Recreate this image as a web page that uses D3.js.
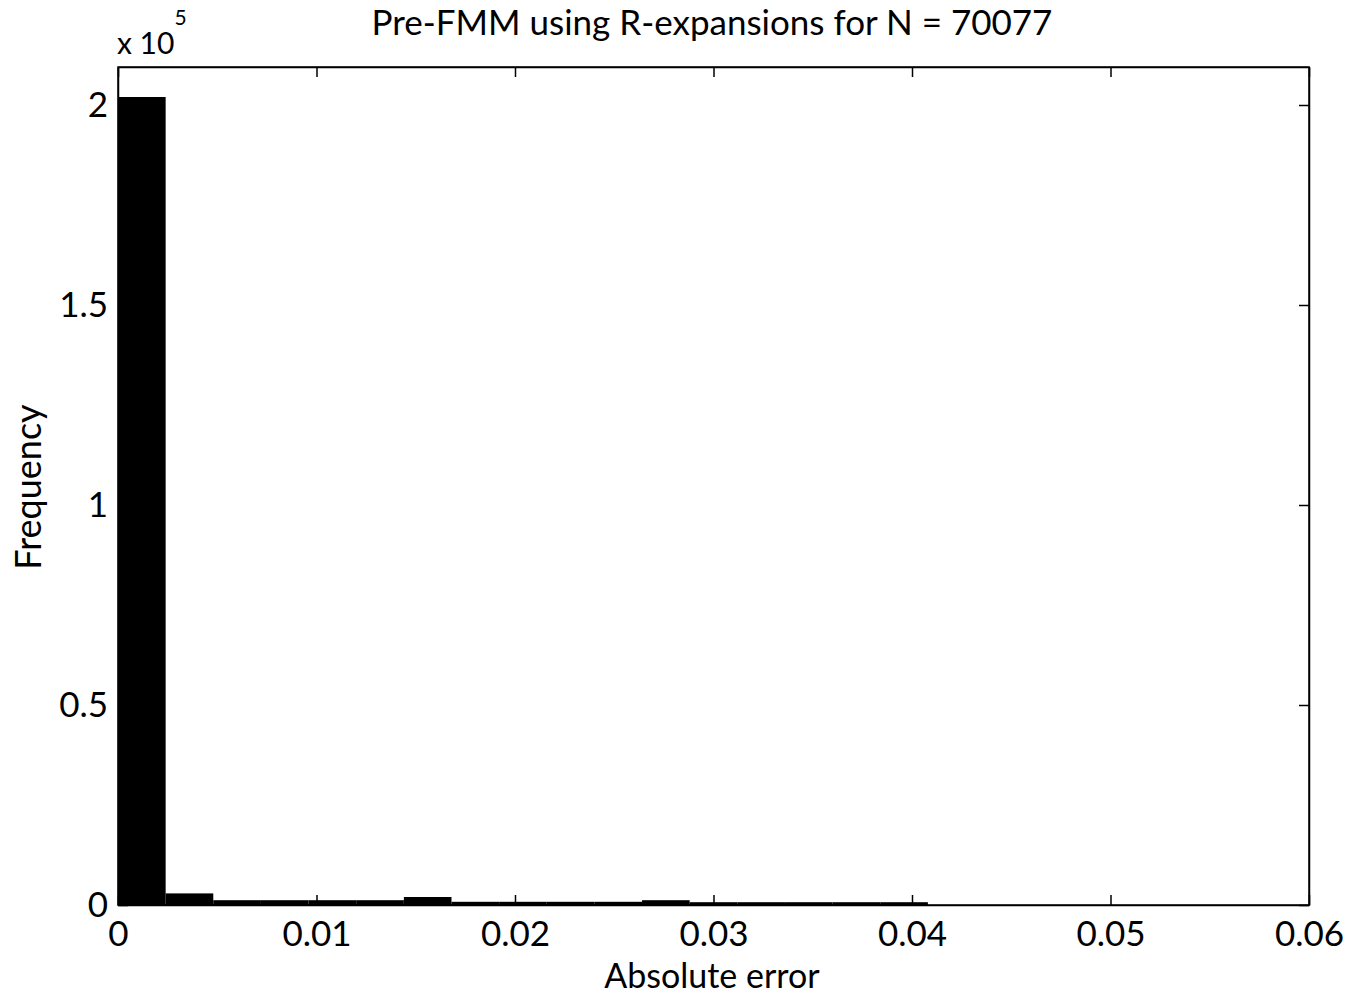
<!DOCTYPE html>
<html><head><meta charset="utf-8">
<script src="https://cdn.jsdelivr.net/npm/d3@7"></script>
<style>body{margin:0;background:#fff;} text{font-family:Lato,"Open Sans",sans-serif;fill:#000;}</style>
</head><body>
<svg id="c" width="1352" height="995"></svg>
<script>
const binStart = 0;
const binWidth = 0.0024;
const counts = [202000, 2900, 1200, 1200, 1200, 1200, 2000, 800, 800, 800, 800, 1200, 700, 700, 700, 700, 700];
const xTicks = [0, 0.01, 0.02, 0.03, 0.04, 0.05, 0.06];
const xTickLabels = ["0", "0.01", "0.02", "0.03", "0.04", "0.05", "0.06"];
const yTicks = [0, 50000, 100000, 150000, 200000];
const yTickLabels = ["0", "0.5", "1", "1.5", "2"];
const title = "Pre-FMM using R-expansions for N = 70077";
const xLabel = "Absolute error";
const yLabel = "Frequency";

const svg = d3.select("#c");
const L = 118, R = 1309, T = 67, B = 905;
const x = d3.scaleLinear().domain([0, 0.06]).range([L, R]);
const y = d3.scaleLinear().domain([0, 209500]).range([B, T]);

const bins = counts.map((c, i) => ({x0: binStart + i * binWidth, x1: binStart + (i + 1) * binWidth, c}));
svg.append("g").selectAll("rect").data(bins).join("rect")
  .attr("x", d => x(d.x0)).attr("width", d => x(d.x1) - x(d.x0))
  .attr("y", d => y(d.c)).attr("height", d => y(0) - y(d.c))
  .attr("fill", "#000");

const tl = 10;
const gx = svg.append("g").attr("transform", `translate(0,${B})`)
  .call(d3.axisBottom(x).tickValues(xTicks).tickFormat((d, i) => xTickLabels[i]).tickSizeInner(-tl).tickSizeOuter(0).tickPadding(16));
const gxt = svg.append("g").attr("transform", `translate(0,${T})`)
  .call(d3.axisTop(x).tickValues(xTicks).tickFormat("").tickSizeInner(-tl).tickSizeOuter(0));
const gy = svg.append("g").attr("transform", `translate(${L},0)`)
  .call(d3.axisLeft(y).tickValues(yTicks).tickFormat((d, i) => yTickLabels[i]).tickSizeInner(-tl).tickSizeOuter(0).tickPadding(10));
const gyr = svg.append("g").attr("transform", `translate(${R},0)`)
  .call(d3.axisRight(y).tickValues(yTicks).tickFormat("").tickSizeInner(-tl).tickSizeOuter(0));
[gx, gxt, gy, gyr].forEach(g => {
  g.selectAll(".domain").attr("stroke", "#000").attr("stroke-width", 1.5);
  g.selectAll(".tick line").attr("stroke", "#000").attr("stroke-width", 1.5);
  g.selectAll("text").style("font-size", "35px").attr("fill", "#000");
});
gx.selectAll("text").attr("dy", "0.71em");
svg.append("rect").attr("x", L).attr("y", T).attr("width", R - L).attr("height", B - T)
  .attr("fill", "none").attr("stroke", "#000").attr("stroke-width", 1.5);

svg.append("text").attr("x", 712).attr("y", 35).attr("text-anchor", "middle").style("font-size", "35px").text(title);
svg.append("text").attr("x", 712).attr("y", 988).attr("text-anchor", "middle").style("font-size", "34px").text(xLabel);
svg.append("text").attr("transform", "translate(41,487) rotate(-90)").attr("text-anchor", "middle").style("font-size", "36px").text(yLabel);
const ex = svg.append("text").attr("x", 117).attr("y", 54).style("font-size", "30px");
ex.append("tspan").text("x 10");
ex.append("tspan").attr("dy", -29).style("font-size", "21px").text("5");
</script>
</body></html>
